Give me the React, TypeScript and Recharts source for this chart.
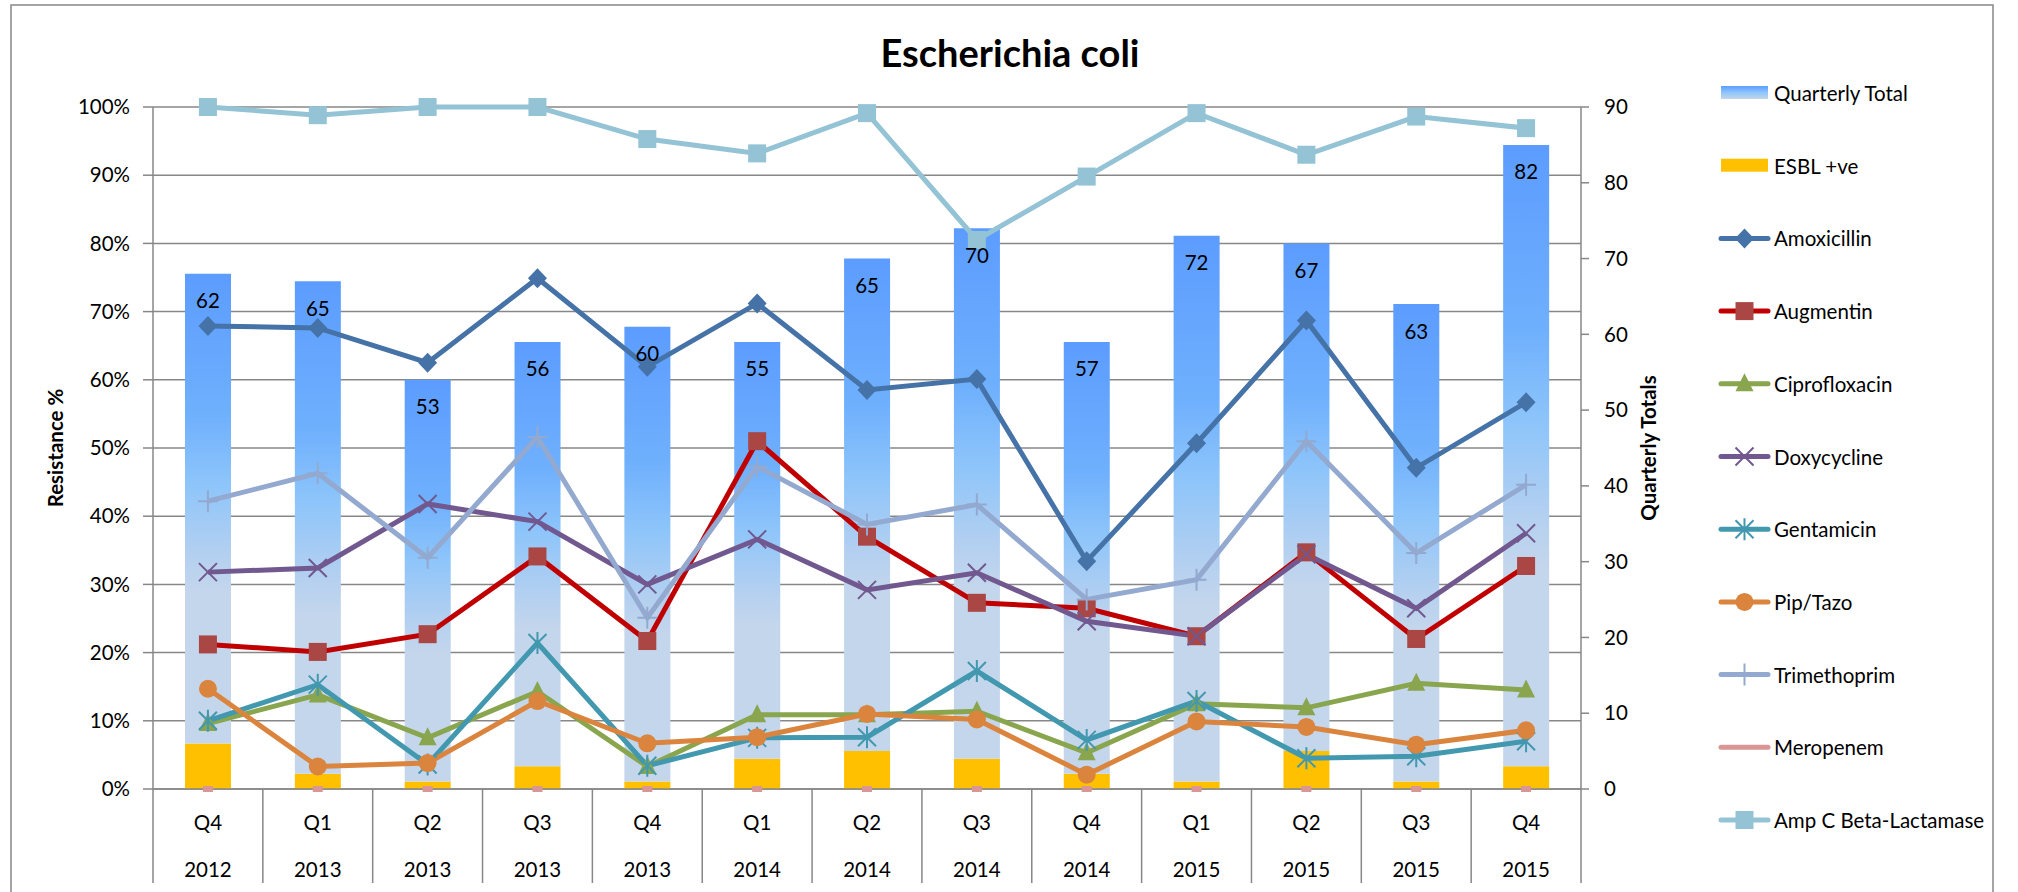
import React from 'react';
import { ComposedChart, Bar, Line, XAxis, YAxis, CartesianGrid, LabelList } from 'recharts';

const quarters = ['Q4', 'Q1', 'Q2', 'Q3', 'Q4', 'Q1', 'Q2', 'Q3', 'Q4', 'Q1', 'Q2', 'Q3', 'Q4'];
const years = ['2012', '2013', '2013', '2013', '2013', '2014', '2014', '2014', '2014', '2015', '2015', '2015', '2015'];
const quarterlyTotal = [62, 65, 53, 56, 60, 55, 65, 70, 57, 72, 67, 63, 82];
const esblPositive = [6, 2, 1, 3, 1, 4, 5, 4, 2, 1, 5, 1, 3];
const amoxicillin = [67.9, 67.6, 62.5, 74.9, 61.9, 71.2, 58.5, 60.1, 33.4, 50.7, 68.7, 47.1, 56.7];
const augmentin = [21.2, 20.1, 22.7, 34.1, 21.7, 51.0, 37.0, 27.3, 26.5, 22.4, 34.7, 22.0, 32.7];
const ciprofloxacin = [9.6, 13.8, 7.5, 14.3, 3.3, 10.9, 10.9, 11.4, 5.3, 12.5, 11.9, 15.5, 14.5];
const doxycycline = [31.8, 32.4, 41.8, 39.2, 30.0, 36.6, 29.2, 31.7, 24.6, 22.4, 34.4, 26.5, 37.5];
const gentamicin = [10.0, 15.3, 3.6, 21.4, 3.4, 7.5, 7.6, 17.3, 7.2, 12.9, 4.5, 4.8, 7.0];
const pipTazo = [14.7, 3.3, 3.8, 12.9, 6.7, 7.6, 11.0, 10.2, 2.1, 9.9, 9.1, 6.5, 8.6];
const trimethoprim = [42.2, 46.3, 33.9, 51.6, 25.1, 47.3, 38.8, 41.7, 27.8, 30.7, 51.0, 34.6, 44.6];
const meropenem = [0, 0, 0, 0, 0, 0, 0, 0, 0, 0, 0, 0, 0];
const ampCBetaLactamase = [100, 98.8, 100, 100, 95.3, 93.2, 99.1, 80.5, 89.8, 99.1, 93.0, 98.6, 96.9];

const leftTicks = [0, 10, 20, 30, 40, 50, 60, 70, 80, 90, 100];
const rightTicks = [0, 10, 20, 30, 40, 50, 60, 70, 80, 90];

const FONT = 'Lato, "Liberation Sans", sans-serif';
const AXIS = '#878787';

type Kind = 'diamond' | 'square' | 'triangle' | 'x' | 'star' | 'circle' | 'plus' | 'dash';

interface SeriesDef {
  key: string;
  name: string;
  values: number[];
  line: string;
  marker: string;
  kind: Kind;
}

const lineSeries: SeriesDef[] = [
  { key: 'amox', name: 'Amoxicillin', values: amoxicillin, line: '#4572A7', marker: '#4572A7', kind: 'diamond' },
  { key: 'aug', name: 'Augmentin', values: augmentin, line: '#C00000', marker: '#AA4643', kind: 'square' },
  { key: 'cip', name: 'Ciprofloxacin', values: ciprofloxacin, line: '#89A54E', marker: '#89A54E', kind: 'triangle' },
  { key: 'dox', name: 'Doxycycline', values: doxycycline, line: '#71588F', marker: '#71588F', kind: 'x' },
  { key: 'gen', name: 'Gentamicin', values: gentamicin, line: '#4198AF', marker: '#4198AF', kind: 'star' },
  { key: 'pip', name: 'Pip/Tazo', values: pipTazo, line: '#DB843D', marker: '#DB843D', kind: 'circle' },
  { key: 'tri', name: 'Trimethoprim', values: trimethoprim, line: '#93A9CF', marker: '#93A9CF', kind: 'plus' },
  { key: 'mer', name: 'Meropenem', values: meropenem, line: '#D99694', marker: '#D99694', kind: 'dash' },
  { key: 'amp', name: 'Amp C Beta-Lactamase', values: ampCBetaLactamase, line: '#93C3D5', marker: '#93C3D5', kind: 'square' },
];

const data = quarters.map((q, i) => {
  const row: Record<string, any> = { cat: `${q} ${years[i]}`, q, year: years[i], total: quarterlyTotal[i], esbl: esblPositive[i] };
  lineSeries.forEach((s) => { row[s.key] = s.values[i]; });
  return row;
});

function Marker({ kind, cx, cy, color }: { kind: Kind; cx: number; cy: number; color: string }) {
  if (cx == null || cy == null || isNaN(cx) || isNaN(cy)) return null;
  switch (kind) {
    case 'diamond':
      return <path d={`M${cx},${cy - 10}L${cx + 9.5},${cy}L${cx},${cy + 10}L${cx - 9.5},${cy}Z`} fill={color} />;
    case 'square':
      return <rect x={cx - 9} y={cy - 9} width={18} height={18} fill={color} />;
    case 'triangle':
      return <path d={`M${cx},${cy - 10.5}L${cx + 9},${cy + 7.5}L${cx - 9},${cy + 7.5}Z`} fill={color} />;
    case 'x':
      return <path d={`M${cx - 9},${cy - 9}L${cx + 9},${cy + 9}M${cx - 9},${cy + 9}L${cx + 9},${cy - 9}`} stroke={color} strokeWidth={2} fill="none" />;
    case 'star':
      return <path d={`M${cx - 9},${cy - 9}L${cx + 9},${cy + 9}M${cx - 9},${cy + 9}L${cx + 9},${cy - 9}M${cx},${cy - 11}L${cx},${cy + 11}`} stroke={color} strokeWidth={2} fill="none" />;
    case 'circle':
      return <circle cx={cx} cy={cy} r={9} fill={color} />;
    case 'plus':
      return <path d={`M${cx - 10},${cy}L${cx + 10},${cy}M${cx},${cy - 11}L${cx},${cy + 11}`} stroke={color} strokeWidth={2} fill="none" />;
    case 'dash':
      return <rect x={cx - 5} y={cy - 3} width={10} height={6} fill={color} />;
    default:
      return null;
  }
}

function makeDot(s: SeriesDef) {
  return (props: any) => (
    <g key={`${s.key}-${props.index}`}>
      <Marker kind={s.kind} cx={props.cx} cy={props.cy} color={s.marker} />
    </g>
  );
}

function CategoryTick(props: any) {
  const { x, y, payload, index, visibleTicksCount } = props;
  const w = typeof props.width === 'number' ? props.width : 1428;
  const count = visibleTicksCount || quarters.length;
  const half = w / count / 2;
  const row = data[payload.index ?? index] || data[index];
  const isLast = index === count - 1;
  return (
    <g>
      <line x1={x - half} x2={x - half} y1={y} y2={y + 94} stroke={AXIS} strokeWidth={1.5} />
      {isLast && <line x1={x + half} x2={x + half} y1={y} y2={y + 94} stroke={AXIS} strokeWidth={1.5} />}
      <text x={x} y={y + 41} textAnchor="middle" fontSize={20.5} fontFamily={FONT} fill="#000">{row ? row.q : ''}</text>
      <text x={x} y={y + 88} textAnchor="middle" fontSize={20.5} fontFamily={FONT} fill="#000">{row ? row.year : ''}</text>
    </g>
  );
}

const rotatedLabel = (text: string, dxFromAxis: number) => (p: any) => {
  const vb = p.viewBox || { x: 0, y: 0, width: 0, height: 0 };
  const cx = vb.x + dxFromAxis;
  const cy = vb.y + vb.height / 2;
  return (
    <text x={cx} y={cy} transform={`rotate(-90 ${cx} ${cy})`} textAnchor="middle" dominantBaseline="central"
      fontSize={20.5} fontWeight="bold" fontFamily={FONT} fill="#000">{text}</text>
  );
};

const legendTop = 93;
const legendStep = 72.7;
const legendIconX = 1721;
const legendIconW = 47;

function Legend() {
  const items: { name: string; type: 'grad' | 'esbl' | 'line'; s?: SeriesDef }[] = [
    { name: 'Quarterly Total', type: 'grad' },
    { name: 'ESBL +ve', type: 'esbl' },
    ...lineSeries.map((s) => ({ name: s.name, type: 'line' as const, s })),
  ];
  return (
    <>
      {items.map((it, i) => {
        const cy = legendTop + i * legendStep;
        const cx = legendIconX + legendIconW / 2;
        return (
          <g key={it.name}>
            {it.type === 'grad' && <rect x={legendIconX} y={cy - 7} width={legendIconW} height={13} fill="url(#qtGradLegend)" />}
            {it.type === 'esbl' && <rect x={legendIconX} y={cy - 7} width={legendIconW} height={13} fill="#FFC000" />}
            {it.type === 'line' && it.s && (
              <>
                <line x1={legendIconX} x2={legendIconX + legendIconW} y1={cy} y2={cy} stroke={it.s.line} strokeWidth={5} strokeLinecap="round" />
                {it.s.kind !== 'dash' && <Marker kind={it.s.kind} cx={cx} cy={cy} color={it.s.marker} />}
              </>
            )}
            <text x={1774} y={cy} dominantBaseline="central" fontSize={20.5} fontFamily={FONT} fill="#000">{it.name}</text>
          </g>
        );
      })}
    </>
  );
}

export default function App() {
  return (
    <div style={{ position: 'absolute', left: 0, top: 0, width: 2018, height: 892, background: '#fff', overflow: 'hidden' }}>
      <div style={{ position: 'absolute', left: 0, top: 0 }}>
        <ComposedChart width={2018} height={892} data={data} margin={{ top: 107, right: 0, bottom: 0, left: 0 }}>
          <defs>
            <linearGradient id="qtGrad" x1="0" y1="0" x2="0" y2="1">
              <stop offset="0" stopColor="#5C9CFF" />
              <stop offset="0.3" stopColor="#6FB0FD" />
              <stop offset="0.45" stopColor="#8EC5FA" />
              <stop offset="0.6" stopColor="#B4D0F0" />
              <stop offset="0.68" stopColor="#C4D6EC" />
              <stop offset="1" stopColor="#C4D6EC" />
            </linearGradient>
          </defs>
          <CartesianGrid xAxisId="cat" yAxisId="left" vertical={false} stroke={AXIS} strokeWidth={1.5} />
          <XAxis xAxisId="cat" dataKey="cat" height={103} interval={0} tickSize={0} tickMargin={0} tickLine={false}
            axisLine={{ stroke: AXIS, strokeWidth: 1.5 }} tick={<CategoryTick />} />
          <YAxis yAxisId="left" width={153} domain={[0, 100]} ticks={leftTicks} tickFormatter={(v: number) => `${v}%`}
            tickSize={10} tickMargin={13} axisLine={{ stroke: AXIS, strokeWidth: 1.5 }} tickLine={{ stroke: AXIS, strokeWidth: 1.5 }}
            tick={{ fill: '#000', fontSize: 20.5, fontFamily: FONT }}
            label={{ position: 'center', content: rotatedLabel('Resistance %', 55) }} />
          <YAxis yAxisId="right" orientation="right" width={437} domain={[0, 90]} ticks={rightTicks}
            tickSize={8} tickMargin={15} axisLine={{ stroke: AXIS, strokeWidth: 1.5 }} tickLine={{ stroke: AXIS, strokeWidth: 1.5 }}
            tick={{ fill: '#000', fontSize: 20.5, fontFamily: FONT }}
            label={{ position: 'center', content: rotatedLabel('Quarterly Totals', 67) }} />
          <Bar xAxisId="cat" yAxisId="right" dataKey="esbl" name="ESBL +ve" stackId="s" fill="#FFC000" barSize={46} isAnimationActive={false} />
          <Bar xAxisId="cat" yAxisId="right" dataKey="total" name="Quarterly Total" stackId="s" fill="url(#qtGrad)" barSize={46} isAnimationActive={false}>
            <LabelList dataKey="total" position="insideTop" offset={20} fill="#000" fontSize={20.5} fontFamily={FONT} />
          </Bar>
          {lineSeries.map((s) => (
            <Line key={s.key} xAxisId="cat" yAxisId="left" type="linear" dataKey={s.key} name={s.name}
              stroke={s.kind === 'dash' ? 'none' : s.line} strokeWidth={5} dot={makeDot(s)} activeDot={false}
              isAnimationActive={false} />
          ))}
        </ComposedChart>
      </div>
      <svg width={2018} height={892} style={{ position: 'absolute', left: 0, top: 0, pointerEvents: 'none' }}>
        <defs>
          <linearGradient id="qtGradLegend" x1="0" y1="0" x2="0" y2="1">
            <stop offset="0" stopColor="#5C9CFF" />
            <stop offset="0.5" stopColor="#8EC5FA" />
            <stop offset="1" stopColor="#C4D6EC" />
          </linearGradient>
        </defs>
        <rect x={11} y={5} width={1982} height={900} fill="none" stroke={AXIS} strokeWidth={1.5} />
        <text x={1010} y={52} textAnchor="middle" dominantBaseline="central" fontSize={38} fontWeight="bold" fontFamily={FONT} fill="#000">Escherichia coli</text>
        <Legend />
      </svg>
    </div>
  );
}
